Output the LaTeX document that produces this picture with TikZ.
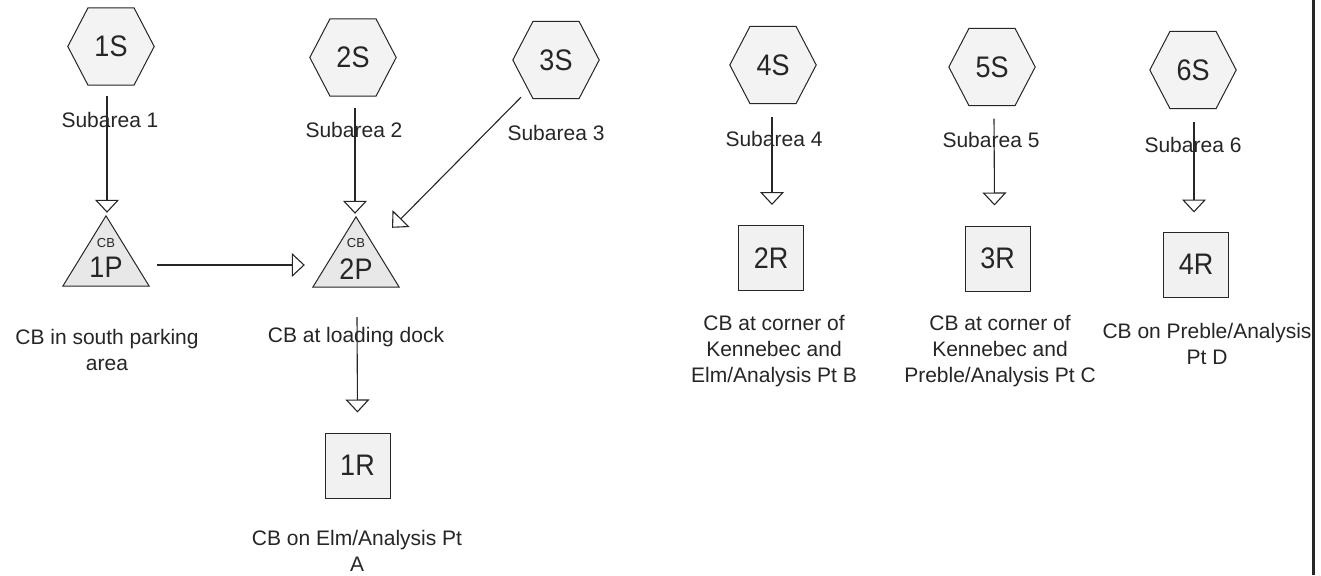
\documentclass[tikz,border=0pt]{standalone}
\usepackage{fontspec}
\setmainfont{Liberation Sans}
\usetikzlibrary{arrows.meta,calc}
\definecolor{hexfill}{HTML}{F3F3F3}
\definecolor{trifill}{HTML}{E8E8E8}
\definecolor{boxfill}{HTML}{F1F1F1}
\definecolor{ink}{HTML}{262626}
\newcommand\tallid[1]{\scalebox{1}[1.1]{#1}}
\newcommand\hexagonnode[3]{%
  \node[hexframe] (#1) at (#2) {};
  \draw[shapeline, fill=hexfill] (#1.west) -- ([xshift=-23pt]#1.north) -- ([xshift=23pt]#1.north) -- (#1.east) -- ([xshift=23pt]#1.south) -- ([xshift=-23pt]#1.south) -- cycle;
  \node[idtext] (#1t) at (#1) {\tallid{#3}};
}
\newcommand\trianglenode[5]{%
  \node[triframe] (#1) at (#2) {};
  \draw[shapeline, fill=trifill] (#1.north) -- (#1.south east) -- (#1.south west) -- cycle;
  \node[cbtext] (#1cb) at ([yshift=#4pt]#1.center) {CB};
  \node[idtext] (#1t) at ([yshift=#5pt]#1.center) {\tallid{#3}};
}
\begin{document}
\begin{tikzpicture}[x=1pt,y=-1pt,
  shapeline/.style={draw=ink, line width=1pt},
  hexframe/.style={inner sep=0pt, minimum width=86pt, minimum height=77pt},
  triframe/.style={inner sep=0pt, minimum width=86pt, minimum height=70pt},
  idtext/.style={font=\fontsize{27}{30}\selectfont, text=ink, inner sep=0pt},
  cbtext/.style={font=\fontsize{13}{14}\selectfont, text=ink, inner sep=0pt},
  lbl/.style={font=\fontsize{21}{26}\selectfont, text=ink, align=center, inner sep=0pt},
  boxnode/.style={draw=ink, line width=1pt, fill=boxfill, minimum size=65pt, inner sep=0pt, text=ink, font=\fontsize{27}{30}\selectfont},
  arr/.style={draw=ink, line width=1.1pt, -{Triangle[length=13pt, width=24pt, fill=white]}}
]
\useasboundingbox (0,0) rectangle (1321,575);
\fill[white] (0,0) rectangle (1321,575);

% sources
\hexagonnode{s1}{111,46.5}{1S}
\hexagonnode{s2}{353,57.5}{2S}
\hexagonnode{s3}{556,60}{3S}
\hexagonnode{s4}{773,65}{4S}
\hexagonnode{s5}{992,67}{5S}
\hexagonnode{s6}{1193,70}{6S}

% subarea labels
\node[lbl] (sub1) at (110,120) {Subarea 1};
\node[lbl] (sub2) at (354,130) {Subarea 2};
\node[lbl] (sub3) at (556,133) {Subarea 3};
\node[lbl] (sub4) at (774,139) {Subarea 4};
\node[lbl] (sub5) at (991,140) {Subarea 5};
\node[lbl] (sub6) at (1193,145) {Subarea 6};

% catch basins
\trianglenode{p1}{106,251}{1P}{8}{-16}
\trianglenode{p2}{356,252}{2P}{9}{-17}

% outfalls
\node[boxnode] (r1) at (357.5,465.5) {\tallid{1R}};
\node[boxnode] (r2) at (771,258) {\tallid{2R}};
\node[boxnode] (r3) at (997.5,258.5) {\tallid{3R}};
\node[boxnode] (r4) at (1196,264.5) {\tallid{4R}};

% captions
\node[lbl] (c1) at (107,350) {CB in south parking\\area};
\node[lbl] (c2) at (356,337) {CB at loading dock};
\node[lbl] (c3) at (357,551) {CB on Elm/Analysis Pt\\A};
\node[lbl] (c4) at (774,351) {CB at corner of\\Kennebec and\\Elm/Analysis Pt B};
\node[lbl] (c5) at (1000,351) {CB at corner of\\Kennebec and\\Preble/Analysis Pt C};
\node[lbl] (c6) at (1207,344) {CB on Preble/Analysis\\Pt D};

% connectors
\draw[arr, shorten >=3pt] ($(p1.north |- s1.south)+(1,11)$) -- ($(p1.north)+(1,0)$);
\draw[arr] ($(p1.east)+(8,14)$) -- ($(p2.west)+(-8,13)$);
\draw[arr, shorten >=3pt] ($(p2.north |- s2.south)+(-1,12)$) -- ($(p2.north)+(-1,0)$);
\draw[arr] ($(s3.south)+(-35,-1.5)$) -- ($(p2.north)+(36,11)$);
\draw[arr] ($(p2.south)+(1,30)$) -- ($(r1.north)+(0,-20)$);
\draw[arr] ($(s4.south)+(-1,13)$) -- ($(r2.north)+(1,-20)$);
\draw[arr] ($(s5.south)+(2,13)$) -- ($(r3.north)+(-3,-20)$);
\draw[arr] ($(s6.south)+(1,13)$) -- ($(r4.north)+(-2,-19)$);

% right border
\draw[ink, line width=3pt] (1313,0) -- (1313,575);
\end{tikzpicture}
\end{document}
